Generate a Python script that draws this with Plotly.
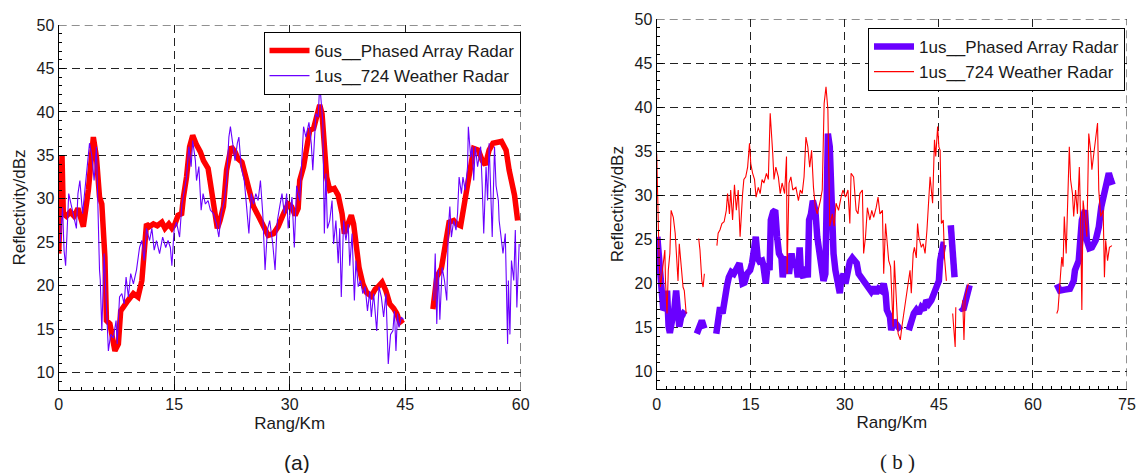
import plotly.graph_objects as go

# ---------------- Data: panel (a) ----------------
a_pa6_x = [0, 0.43, 0.6, 1.0, 1.5, 2.0, 2.5, 2.9, 3.2, 3.85, 4.5, 4.9, 5.3, 5.6, 6.0, 6.2, 6.65, 7.3, 7.75, 8.05,
           8.6, 9.0, 9.7, 10.3, 10.8, 11.1, 11.4, 11.8, 12.3, 12.8, 13.4, 13.8, 14.3, 14.7, 15.1, 15.5, 15.97, 16.2,
           16.6, 17.0, 17.4, 17.9, 18.4, 18.8, 19.4, 19.7, 20.1, 20.6, 20.95, 21.4, 21.8, 22.4, 22.9, 23.3, 23.8,
           24.2, 24.9, 25.3, 26.0, 26.6, 27.2, 27.9, 28.5, 29.2, 29.8, 30.25, 30.7, 31.1, 31.3, 31.8, 32.2, 32.6,
           33.1, 33.5, 33.9, 34.2, 34.6, 34.8, 35.2, 35.8, 36.3, 36.8, 37.1, 37.5, 38.0, 38.3, 38.6, 39.0, 39.5,
           40.0, 40.6, 41.1, 41.5, 42.0, 42.5, 43.0, 43.5, 43.9, 44.3, 44.75, None,
           48.6, 49.1, 49.7, 50.2, 50.7, 51.3, 51.7, 52.2, 52.6, 53.1, 53.5, 53.9, 54.5, 55.0, 55.4, 55.9, 56.4,
           57.0, 57.5, 58.1, 58.5, 59.2, 59.6]
a_pa6_y = [23.7, 35.0, 28.3, 28.0, 28.5, 28.0, 28.9, 27.5, 26.8, 31.0, 37.1, 34.8, 30.2, 29.4, 23.3, 16.0, 15.6,
           12.5, 13.3, 17.1, 17.9, 18.3, 19.1, 18.7, 20.6, 23.7, 27.1, 26.8, 27.1, 26.9, 27.3, 26.6, 27.1, 26.6,
           27.1, 28.1, 28.3, 30.2, 32.5, 36.0, 37.3, 36.2, 35.4, 34.4, 33.5, 31.8, 29.1, 26.6, 27.5, 29.1, 33.3,
           36.0, 35.4, 34.6, 34.2, 32.9, 30.6, 29.1, 27.9, 26.8, 25.8, 26.0, 26.8, 28.3, 29.4, 29.1, 28.1, 28.9,
           32.1, 33.7, 36.2, 37.9, 38.1, 39.2, 40.8, 39.8, 36.0, 32.5, 31.0, 31.2, 30.4, 28.3, 26.0, 27.1, 28.1,
           27.1, 24.8, 22.1, 20.2, 19.2, 18.8, 19.6, 19.9, 20.4, 19.4, 17.9, 17.4, 16.8, 15.8, 16.1, None,
           17.3, 21.0, 22.0, 24.8, 27.3, 27.5, 27.1, 26.9, 29.1, 31.0, 33.7, 35.8, 35.6, 34.4, 33.9, 35.6, 36.4,
           36.6, 36.6, 35.6, 33.3, 30.4, 27.5]

a_wr1_x = [0.2, 0.5, 0.7, 0.9, 1.3, 1.7, 2.0, 2.3, 2.5, 2.75, 3.1, 3.5, 4.0, 4.3, 4.6, 4.9, 5.1, 5.3, 5.4, 5.6,
           5.9, 6.15, 6.45, 6.75, 7.1, 7.45, 7.6, 7.9, 8.2, 8.5, 8.75, 9.05, 9.35, 9.7, 10.1, 10.5, 10.8, 11.1,
           11.4, 11.8, 12.1, 12.4, 12.7, 13.1, 13.5, 13.9, 14.2, 14.5, 14.7, 15.0, 15.3, 15.7, 16.0, 16.3, 16.6,
           16.9, 17.2, 17.4, 17.75, 17.9, 18.2, 18.5, 18.75, 19.05, 19.4, 19.7, 20.1, 20.5, 20.8, 21.1, 21.5,
           21.8, 22.1, 22.3, 22.6, 22.9, 23.2, 23.4, 23.7, 24.1, 24.4, 24.7, 25.0, 25.3, 25.6, 25.9, 26.2, 26.5,
           26.8, 27.1, 27.4, 27.8, 28.1, 28.4, 28.7, 29.0, 29.3, 29.6, 29.8, 30.1, 30.3, 30.6, 30.9, 31.3, 31.5,
           31.8, 32.1, 32.5, 32.8, 33.0, 33.4, 33.7, 33.9, 34.3, 34.5, 34.7, 34.9, 35.2, 35.5, 35.7, 36.0, 36.3,
           36.5, 36.7, 37.0, 37.3, 37.6, 37.8, 38.1, 38.4, 38.6, 38.9, 39.2, 39.5, 39.8, 40.1, 40.4, 40.6, 40.9,
           41.3, 41.6, 41.9, 42.2, 42.5, 42.8, 43.1, 43.4, 43.6, 43.8, 44.0, 44.2, 44.5, 44.8, None,
           48.7, 48.9, 49.1, 49.3, 49.5, 49.8, 50.1, 50.4, 50.6, 50.8, 51.0, 51.3, 51.6, 51.8, 52.0, 52.3, 52.5,
           52.8, 53.1, 53.2, 53.5, 53.7, 53.9, 54.1, 54.4, 54.6, 54.8, 55.0, 55.2, 55.5, 55.7, 55.9, 56.1, 56.3,
           56.6, 56.8, 57.1, 57.2, 57.4, 57.7, 58.0, 58.3, 58.4, 58.6, 58.8, 59.1, 59.3, 59.5, 59.8]
a_wr1_y = [25.0, 29.0, 24.0, 22.3, 30.6, 29.1, 28.0, 26.6, 30.6, 32.1, 28.3, 31.8, 36.4, 35.0, 32.1, 36.0, 27.8,
           21.8, 20.6, 14.8, 23.7, 18.7, 12.5, 14.4, 14.0, 16.0, 13.3, 18.7, 19.1, 17.9, 21.0, 18.7, 21.4, 20.2,
           21.8, 24.4, 25.2, 22.9, 26.6, 25.2, 26.6, 24.1, 25.2, 23.7, 25.6, 24.4, 25.2, 24.4, 22.3, 26.6, 27.3,
           25.6, 29.4, 30.9, 32.5, 36.0, 33.7, 36.7, 34.4, 32.1, 33.7, 28.7, 30.6, 29.4, 29.8, 28.7, 28.3, 27.1,
           25.6, 28.3, 29.8, 32.1, 37.1, 38.3, 36.4, 34.4, 36.4, 37.1, 33.7, 32.1, 29.1, 26.0, 30.6, 29.4, 30.6,
           29.8, 32.1, 28.3, 21.8, 26.4, 27.5, 24.8, 21.8, 27.5, 29.1, 30.6, 28.3, 30.6, 26.6, 29.1, 30.2, 24.4,
           31.5, 29.8, 34.0, 38.3, 37.1, 38.8, 36.4, 33.3, 39.8, 39.4, 43.3, 38.8, 26.0, 32.9, 26.6, 27.5, 29.8,
           24.8, 27.5, 22.6, 26.6, 18.7, 27.5, 25.2, 27.1, 22.3, 26.0, 18.3, 22.9, 19.9, 20.6, 19.1, 19.9, 17.1,
           19.4, 16.4, 19.1, 14.8, 19.9, 18.7, 16.4, 19.1, 11.0, 14.4, 14.8, 17.1, 12.5, 16.8, 15.2, 16.4, 16.1,
           None,
           18.3, 23.7, 15.6, 21.8, 16.1, 22.1, 20.6, 18.3, 26.6, 29.1, 25.6, 27.5, 26.4, 28.3, 32.5, 30.6, 32.5,
           31.0, 33.7, 38.3, 34.8, 36.0, 32.1, 36.0, 33.7, 34.8, 36.0, 31.5, 26.0, 33.7, 29.8, 36.4, 31.0, 25.6,
           36.0, 31.5, 29.8, 27.5, 26.0, 23.7, 26.0, 13.3, 20.6, 14.4, 22.9, 20.6, 26.4, 17.5, 24.8]

# ---------------- Data: panel (b) ----------------
b_pa1_x = [0.1, 0.4, 0.6, 0.85, 1.05, 1.4, 1.65, 1.9, 2.1, 2.45, 2.8, 3.1, 3.3, 3.6, 3.9, 4.25, 4.6, None,
           6.4, 6.8, 7.2, 7.6, None,
           9.5, 9.8, 10.1, 10.5, 10.9, 11.2, 11.5, 11.9, 12.3, 12.7, 13.0, 13.2, 13.7, 14.0, 14.4, 14.9, 15.2,
           15.5, 15.8, 16.1, 16.4, 16.8, 17.0, 17.4, 17.7, 18.0, 18.2, 18.55, 18.9, 19.2, 19.5, 19.9, 20.1, 20.4,
           20.8, 21.1, 21.5, 21.8, 22.2, 22.5, 22.8, 23.0, 23.4, 23.7, 24.1, 24.3, 24.6, 24.9, 25.3, 25.6, 25.9,
           26.2, 26.6, 26.9, 27.1, 27.3, 27.6, 27.9, 28.2, 28.5, 28.9, 29.2, 29.4, 29.8, 30.1, 30.5, 30.8, 31.2,
           31.6, 31.9, 32.2, 32.6, 33.0, 33.4, 33.8, 34.2, 34.6, 35.0, 35.4, 35.8, 36.2, 36.5, 36.7, 36.9, 37.2,
           37.4, 37.8, 38.2, 38.5, 38.9, None,
           40.2, 40.6, 41.0, 41.4, 41.8, 42.2, 42.6, 43.0, 43.4, 43.8, 44.2, 44.6, 45.0, 45.2, 45.4, 45.7, 45.9,
           None,
           46.9, 47.2, 47.5, None,
           48.5, 48.9, 49.3, 49.6, 49.9, None,
           63.8, 64.3, 65.1, 65.9, 66.5, 66.7, 67.3, 67.8, 68.3, 68.6, 69.0, 69.4, 70.0, 70.5, 70.9, 71.3, 71.7,
           72.1, 72.4, 72.7]
b_pa1_y = [25.3, 21.9, 20.7, 18.1, 17.0, 17.3, 19.2, 15.1, 14.4, 15.8, 17.0, 19.2, 17.3, 15.1, 16.2, 16.6, 16.4,
           None,
           14.3, 15.4, 15.8, 14.9, None,
           14.3, 16.2, 17.3, 16.6, 18.9, 19.7, 20.7, 21.3, 21.1, 21.5, 21.9, 22.3, 20.0, 20.1, 21.1, 21.5, 22.3,
           24.9, 25.3, 22.9, 22.5, 22.6, 22.1, 20.0, 22.3, 21.5, 27.2, 28.1, 28.3, 25.3, 23.4, 22.9, 20.7, 22.6,
           22.9, 21.1, 23.4, 21.9, 22.5, 20.7, 24.1, 21.1, 20.7, 21.9, 20.7, 27.2, 27.9, 29.4, 28.3, 25.3, 23.8,
           21.9, 20.3, 21.1, 27.9, 37.0, 35.5, 28.6, 23.4, 21.5, 19.2, 18.9, 20.3, 21.1, 20.0, 21.9, 22.5, 22.9,
           22.5, 22.3, 21.1, 20.7, 20.3, 20.0, 19.6, 19.1, 19.6, 18.9, 19.4, 19.2, 20.0, 18.9, 17.0, 16.6, 16.2,
           14.7, 15.8, 15.4, 14.9, 14.7, None,
           14.7, 15.8, 16.6, 17.0, 16.6, 17.3, 17.0, 18.1, 17.7, 18.1, 18.9, 19.6, 20.3, 22.6, 23.8, 24.4, 24.4,
           None,
           26.6, 24.1, 20.7, None,
           17.3, 17.0, 18.1, 19.6, 19.8, None,
           19.9, 19.2, 19.3, 19.4, 20.3, 21.5, 22.6, 27.2, 28.3, 24.9, 24.0, 24.1, 24.9, 26.4, 28.7, 30.2, 31.8,
           32.5, 31.8, 31.2]

b_wr1_x = [0.0, 0.2, 0.4, 0.6, 0.85, 1.1, 1.3, 1.4, 1.65, 1.85, 2.1, 2.3, 2.65, 2.95, 3.2, 3.4, 3.6, 3.9, 4.2,
           4.4, 4.7, None,
           6.7, 6.9, 7.2, 7.4, 7.6, None,
           9.6, 9.8, 10.1, 10.4, 10.75, 11.1, 11.3, 11.6, 11.8, 12.1, 12.4, 12.7, 13.0, 13.3, 13.7, 13.9, 14.2,
           14.5, 14.8, 15.0, 15.3, 15.6, 15.85, 16.2, 16.5, 16.8, 17.1, 17.5, 17.8, 18.1, 18.5, 18.7, 19.0, 19.4,
           19.7, 20.0, 20.4, 20.7, 20.8, 21.1, 21.4, 21.7, 22.2, 22.6, 22.9, 23.2, 23.5, 23.8, 24.1, 24.4, 24.7,
           25.0, 25.3, 25.6, 26.1, 26.4, 26.7, 27.0, 27.3, 27.6, 28.0, 28.3, 28.6, 29.0, 29.4, 29.7, 30.1, 30.5,
           30.8, 31.0, 31.4, 31.8, 32.1, 32.4, 32.8, 33.0, 33.3, 33.6, 34.0, 34.3, 34.6, 35.0, 35.3, 35.6, 36.0,
           36.2, 36.5, 36.7, 37.0, 37.3, 37.5, 37.7, 37.9, 38.1, 38.5, 38.85, 39.1, 40.4, 40.6, 40.9, 41.1, 41.4,
           41.6, 41.8, 42.2, 42.5, 42.8, 43.1, 43.4, 43.6, 44.0, 44.3, 44.5, 44.8, 45.0, 45.2, 45.4, 45.7, 45.9,
           46.2, None,
           47.2, 47.4, 47.6, 47.7, None,
           48.8, 49.0, 49.2, 49.5, 49.7, None,
           63.8, 64.0, 64.3, 64.6, 64.8, 65.0, 65.3, 65.5, 65.8, 66.0, 66.3, 66.5, 66.8, 67.1, 67.4, 67.6, 67.8,
           68.0, 68.3, 68.6, 68.9, 69.2, 69.4, 69.7, 70.0, 70.3, 70.5, 70.8, 71.2, 71.4, 71.6, 71.9, 72.2, 72.6]
b_wr1_y = [34.75, 27.9, 22.3, 19.6, 21.1, 22.6, 23.8, 20.3, 16.6, 21.5, 23.4, 28.3, 27.5, 25.7, 23.0, 20.3, 24.5,
           22.3, 19.6, 19.2, 16.6, None,
           25.1, 23.8, 20.3, 19.6, 21.1, None,
           24.3, 25.7, 26.1, 26.8, 27.0, 28.3, 30.2, 27.9, 30.6, 27.2, 31.2, 28.3, 30.6, 25.3, 30.2, 31.8, 32.1,
           33.2, 35.9, 33.6, 32.5, 31.8, 29.8, 30.9, 30.2, 31.8, 31.4, 32.5, 31.8, 39.3, 34.8, 31.8, 33.2, 32.1,
           30.2, 31.4, 30.2, 34.4, 21.1, 31.4, 32.1, 30.6, 30.9, 29.4, 30.6, 30.2, 32.1, 36.6, 35.5, 33.2, 35.1,
           30.9, 28.6, 27.9, 29.4, 30.6, 40.4, 42.3, 39.7, 26.5, 27.9, 26.5, 29.1, 28.3, 29.8, 30.6, 29.8, 30.6,
           26.8, 32.5, 32.1, 28.3, 27.9, 30.2, 30.6, 23.4, 25.3, 28.6, 27.2, 28.3, 27.5, 28.6, 29.8, 27.9, 28.3,
           21.1, 26.8, 25.3, 22.6, 21.9, 18.9, 15.1, 22.6, 20.0, 14.3, 13.6, 15.1, 21.5, 18.9, 23.4, 24.1, 22.9,
           26.8, 25.3, 24.1, 24.5, 23.4, 26.1, 29.5, 32.1, 29.1, 36.3, 34.4, 37.8, 35.5, 35.1, 26.8, 27.2, 22.9,
           20.3, None,
           16.6, 15.1, 12.8, 17.3, None,
           18.1, 13.6, 18.5, 19.6, 20.0, None,
           16.6, 17.0, 20.0, 23.0, 21.9, 27.6, 23.4, 28.3, 35.5, 31.8, 30.2, 27.6, 30.6, 27.9, 33.2, 27.2, 17.0,
           29.4, 27.2, 25.3, 37.0, 35.1, 32.9, 34.8, 37.0, 38.2, 30.6, 27.6, 28.3, 20.7, 24.9, 22.6, 24.1, 24.3]

x_ticks_a = [0, 15, 30, 45, 60]
x_ticks_b = [0, 15, 30, 45, 60, 75]
y_ticks = [10, 15, 20, 25, 30, 35, 40, 45, 50]

RED = "#ff0000"
VIOLET = "#6a00ff"
FONT = "Arial, Liberation Sans, sans-serif"
INK = "#1a1a1a"

# The page's body margin is removed (post_script below), so the figure fills the window exactly.
W, H = 1137, 473


def px_x(p):
    return p / W


def px_y(p):
    return 1 - p / H


fig = go.Figure()
fig.add_trace(go.Scatter(x=a_pa6_x, y=a_pa6_y, mode="lines", name="6us__Phased Array Radar",
                         line=dict(color=RED, width=5.5), xaxis="x", yaxis="y", legend="legend"))
fig.add_trace(go.Scatter(x=a_wr1_x, y=a_wr1_y, mode="lines", name="1us__724 Weather Radar",
                         line=dict(color=VIOLET, width=1.1), xaxis="x", yaxis="y", legend="legend"))
fig.add_trace(go.Scatter(x=b_pa1_x, y=b_pa1_y, mode="lines", name="1us__Phased Array Radar",
                         line=dict(color=VIOLET, width=6.5), xaxis="x2", yaxis="y2", legend="legend2"))
fig.add_trace(go.Scatter(x=b_wr1_x, y=b_wr1_y, mode="lines", name="1us__724 Weather Radar",
                         line=dict(color=RED, width=1.1), xaxis="x2", yaxis="y2", legend="legend2"))

axis_common = dict(showline=True, linecolor="black", linewidth=1.2, ticks="inside", ticklen=6,
                   tickcolor="black", showgrid=True, gridcolor="#222", griddash="8px,5px", gridwidth=1,
                   zeroline=False, tickfont=dict(family=FONT, size=16, color=INK), automargin=False,
                   ticklabeloverflow="allow")


def xax(domain, rng, ticks, anchor):
    d = dict(axis_common)
    d.update(domain=domain, range=rng, tickvals=ticks, anchor=anchor,
             title=dict(text="Rang/Km", font=dict(family=FONT, size=17, color=INK), standoff=4),
             minor=dict(ticks="inside", ticklen=3, tickcolor="black", dtick=1.5, tick0=0, showgrid=False))
    return d


def yax(domain, anchor):
    d = dict(axis_common)
    d.update(domain=domain, range=[8, 50], tickvals=y_ticks, anchor=anchor,
             title=dict(text="Reflectivity/dBz", font=dict(family=FONT, size=17, color=INK), standoff=6),
             minor=dict(ticks="inside", ticklen=3, tickcolor="black", dtick=1, tick0=0, showgrid=False))
    return d


shapes = []
for xr, yr, xmax in (("x", "y", 60), ("x2", "y2", 75)):
    shapes.append(dict(type="line", xref=xr, yref=yr, x0=0, x1=xmax, y0=50, y1=50,
                       line=dict(color="#222", width=1, dash="8px,5px")))
    shapes.append(dict(type="line", xref=xr, yref=yr, x0=xmax, x1=xmax, y0=8, y1=50,
                       line=dict(color="#222", width=1, dash="8px,5px")))

legend_common = dict(bgcolor="white", bordercolor="black", borderwidth=1,
                     font=dict(family=FONT, size=17, color=INK), xanchor="right", yanchor="top",
                     tracegroupgap=0, itemwidth=40)

fig.update_layout(
    width=W, height=H,
    margin=dict(l=0, r=0, t=0, b=0),
    paper_bgcolor="white", plot_bgcolor="white",
    xaxis=xax([px_x(58.7), px_x(520.7)], [0, 60], x_ticks_a, "y"),
    yaxis=yax([px_y(390), px_y(25)], "x"),
    xaxis2=xax([px_x(656.7), px_x(1127)], [0, 75], x_ticks_b, "y2"),
    yaxis2=yax([px_y(389.3), px_y(19)], "x2"),
    legend=dict(legend_common, x=px_x(520.5), y=px_y(32)),
    legend2=dict(legend_common, x=px_x(1125), y=px_y(28)),
    shapes=shapes,
    annotations=[
        dict(text="(a)", x=px_x(297), y=px_y(462), xref="paper", yref="paper", showarrow=False,
             xanchor="center", yanchor="middle",
             font=dict(family=FONT, size=21, color=INK)),
        dict(text="( b )", x=px_x(897), y=px_y(462), xref="paper", yref="paper", showarrow=False,
             xanchor="center", yanchor="middle",
             font=dict(family="Times New Roman, Liberation Serif, serif", size=21, color=INK)),
    ],
)

fig.write_html("out.html", config={"displayModeBar": False},
               post_script="document.body.style.margin='0px';document.body.style.overflow='hidden';")
